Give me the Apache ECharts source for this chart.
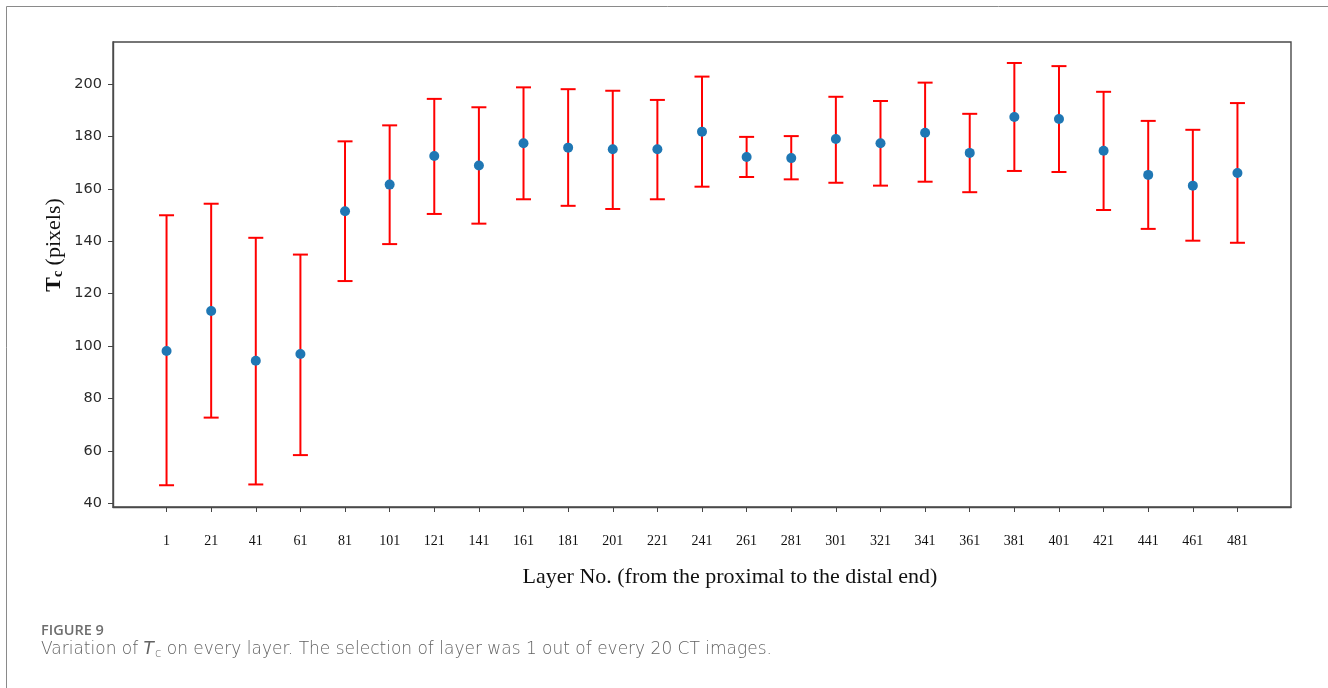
<!DOCTYPE html>
<html>
<head>
<meta charset="utf-8">
<script src="https://cdn.jsdelivr.net/npm/echarts@6/dist/echarts.min.js"></script>
<style>
  html, body { margin: 0; padding: 0; background: #fff; }
  #chart { width: 1328px; height: 688px; }
</style>
</head>
<body>
<div id="chart"></div>
<script>
// layer numbers (every 20th CT image)
const layers = [1, 21, 41, 61, 81, 101, 121, 141, 161, 181, 201, 221, 241,
  261, 281, 301, 321, 341, 361, 381, 401, 421, 441, 461, 481];
// mean Tc per layer (pixels)
const meanTc = [98.1, 113.4, 94.4, 97.0, 151.4, 161.6, 172.5, 168.9, 177.4, 175.7, 175.1, 175.1, 181.8,
  172.1, 171.7, 179.0, 177.4, 181.4, 173.7, 187.4, 186.6, 174.5, 165.3, 161.2, 166.0];
// error bar ends
const upperTc = [149.9, 154.3, 141.3, 134.9, 178.1, 184.2, 194.3, 191.1, 198.7, 198.0, 197.4, 193.9, 202.8,
  179.8, 180.1, 195.1, 193.5, 200.5, 188.6, 208.0, 206.8, 197.0, 185.9, 182.5, 192.7];
const lowerTc = [46.9, 72.7, 47.2, 58.4, 124.8, 138.9, 150.4, 146.7, 156.0, 153.5, 152.3, 156.0, 160.8,
  164.5, 163.6, 162.3, 161.2, 162.7, 158.7, 166.8, 166.4, 151.9, 144.7, 140.2, 139.4];
const yTicks = [40, 60, 80, 100, 120, 140, 160, 180, 200];

const chart = echarts.init(document.getElementById('chart'));

const errData = layers.map((l, i) => [l, lowerTc[i], upperTc[i]]);
const dotData = layers.map((l, i) => [l, meanTc[i]]);

// vertical bar with caps at both ends
function renderErr (params, api) {
  const x = api.value(0);
  const lo = api.coord([x, api.value(1)]);
  const hi = api.coord([x, api.value(2)]);
  const cap = 7.5;
  const st = { stroke: '#ff0000', lineWidth: 2 };
  return {
    type: 'group',
    children: [
      { type: 'line', shape: { x1: lo[0], y1: lo[1], x2: hi[0], y2: hi[1] }, style: st },
      { type: 'line', shape: { x1: hi[0] - cap, y1: hi[1], x2: hi[0] + cap, y2: hi[1] }, style: st },
      { type: 'line', shape: { x1: lo[0] - cap, y1: lo[1], x2: lo[0] + cap, y2: lo[1] }, style: st }
    ]
  };
}

chart.setOption({
  animation: false,
  grid: {
    left: 113, top: 42, right: 37, bottom: 181,
    show: true, borderColor: '#4a4a4a', borderWidth: 1.4
  },
  xAxis: {
    type: 'value',
    min: -23,
    max: 505,
    splitLine: { show: false },
    axisLine: { show: true, onZero: false, lineStyle: { color: '#4a4a4a', width: 1.4 } },
    axisTick: { show: true, length: 5, customValues: layers, lineStyle: { color: '#444' } },
    axisLabel: {
      customValues: layers,
      margin: 27,
      fontFamily: 'Liberation Serif',
      fontSize: 14,
      color: '#111'
    }
  },
  yAxis: {
    type: 'value',
    min: 38.6,
    max: 216,
    splitLine: { show: false },
    axisLine: { show: true, onZero: false, lineStyle: { color: '#4a4a4a', width: 1.4 } },
    axisTick: { show: true, length: 5, customValues: yTicks, lineStyle: { color: '#444' } },
    axisLabel: {
      customValues: yTicks,
      margin: 11,
      fontFamily: 'DejaVu Sans',
      fontSize: 14.5,
      color: '#2a2a2a'
    }
  },
  series: [
    {
      type: 'custom',
      renderItem: renderErr,
      data: errData,
      z: 2
    },
    {
      type: 'scatter',
      data: dotData,
      symbolSize: 10,
      itemStyle: { color: '#1f77b4', opacity: 1 },
      z: 3
    }
  ],
  graphic: [
    {
      type: 'rect',
      shape: { x: 6.5, y: 6.5, width: 1400, height: 800 },
      style: { fill: 'none', stroke: '#8a8a8a', lineWidth: 1 },
      silent: true
    },
    {
      type: 'text',
      x: 730,
      y: 577,
      style: {
        text: 'Layer No. (from the proximal to the distal end)',
        fontFamily: 'Liberation Serif', fontSize: 22, fill: '#111',
        align: 'center', verticalAlign: 'middle'
      }
    },
    {
      type: 'text',
      x: 54,
      y: 245,
      rotation: Math.PI / 2,
      style: {
        text: '{t|T}{c|c}{p| (pixels)}',
        align: 'center', verticalAlign: 'middle',
        rich: {
          t: { fontFamily: 'Liberation Serif', fontWeight: 'bold', fontSize: 22, fill: '#111' },
          c: { fontFamily: 'Liberation Serif', fontWeight: 'bold', fontSize: 14, fill: '#111', padding: [8, 0, 0, 0] },
          p: { fontFamily: 'Liberation Serif', fontSize: 22, fill: '#111' }
        }
      }
    },
    {
      type: 'text',
      x: 41,
      y: 631,
      style: {
        text: 'FIGURE 9', fontFamily: 'Open Sans', fontSize: 14.5, fontWeight: 600, fill: '#6e6e6e',
        verticalAlign: 'middle'
      }
    },
    {
      type: 'text',
      x: 41,
      y: 650,
      style: {
        text: '{n|Variation of }{i|T}{s|c}{n| on every layer. The selection of layer was 1 out of every 20 CT images.}',
        verticalAlign: 'middle',
        rich: {
          n: { fontFamily: 'DejaVu Sans', fontSize: 17, fontWeight: 300, fill: '#626262' },
          i: { fontFamily: 'DejaVu Sans', fontSize: 17, fontWeight: 300, fill: '#626262', fontStyle: 'italic' },
          s: { fontFamily: 'DejaVu Sans', fontSize: 11.5, fontWeight: 300, fill: '#626262', padding: [8, 0, 0, 1] }
        }
      }
    }
  ]
});
</script>
</body>
</html>
